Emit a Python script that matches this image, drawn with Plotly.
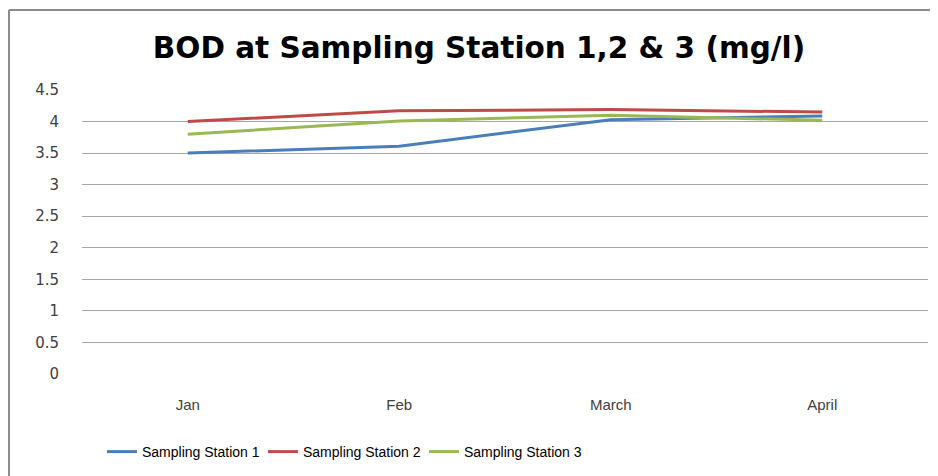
import plotly.graph_objects as go

months = ["Jan", "Feb", "March", "April"]
station_1 = [3.5, 3.61, 4.03, 4.09]
station_2 = [4.0, 4.17, 4.19, 4.15]
station_3 = [3.8, 4.01, 4.1, 4.02]

series = [
    ("Sampling Station 1", station_1, "#4A7EBB"),
    ("Sampling Station 2", station_2, "#BE4B48"),
    ("Sampling Station 3", station_3, "#98B954"),
]

# the page body has an 8px margin, so the figure is 8px smaller than the window
W, H = 930, 468
ml, mr, mt, mb = 74, 10, 82, 102
pw, ph = W - ml - mr, H - mt - mb

fig = go.Figure()
for name, vals, color in series:
    fig.add_trace(
        go.Scatter(
            x=months,
            y=vals,
            name=name,
            mode="lines",
            line=dict(color=color, width=3),
        )
    )

# outer chart border (only left and top edges are visible in the crop)
bx = (1 - ml) / pw
by = 1 + (mt - 2) / ph
fig.add_shape(type="line", xref="paper", yref="paper", x0=bx, x1=bx,
              y0=by, y1=-(mb + 5) / ph, line=dict(color="#8C8C8C", width=2))
fig.add_shape(type="line", xref="paper", yref="paper", x0=bx, x1=(W - ml + 5) / pw,
              y0=by, y1=by, line=dict(color="#8C8C8C", width=2))

fig.update_layout(
    width=W,
    height=H,
    margin=dict(l=ml, r=mr, t=mt, b=mb, autoexpand=False),
    paper_bgcolor="white",
    plot_bgcolor="white",
    title=dict(
        text="<b>BOD at Sampling Station 1,2 &amp; 3 (mg/l)</b>",
        x=471 / W,
        xanchor="center",
        y=1 - 40 / H,
        yanchor="middle",
        font=dict(family="DejaVu Sans", size=29.5, color="black"),
    ),
    font=dict(family="Liberation Sans", color="#404040"),
    xaxis=dict(
        range=[-0.5, 3.5],
        showgrid=False,
        showline=False,
        zeroline=False,
        ticks="",
        automargin=False,
        tickfont=dict(family="Liberation Sans", size=15, color="#404040"),
        ticklabelstandoff=20,
    ),
    yaxis=dict(
        range=[0, 4.5],
        tickvals=[0, 0.5, 1, 1.5, 2, 2.5, 3, 3.5, 4, 4.5],
        ticktext=["0", "0.5", "1", "1.5", "2", "2.5", "3", "3.5", "4", "4.5"],
        showgrid=True,
        gridcolor="#A6A6A6",
        gridwidth=1,
        zeroline=False,
        showline=False,
        ticks="",
        automargin=False,
        tickfont=dict(family="DejaVu Sans", size=15, color="#404040"),
        ticklabelstandoff=22,
    ),
    legend=dict(
        orientation="h",
        x=(94 - ml) / pw,
        xanchor="left",
        y=-(444 - 366) / ph,
        yanchor="middle",
        font=dict(family="Liberation Sans", size=14, color="black"),
        entrywidth=116,
        itemwidth=30,
    ),
)

fig.write_html("out.html")
